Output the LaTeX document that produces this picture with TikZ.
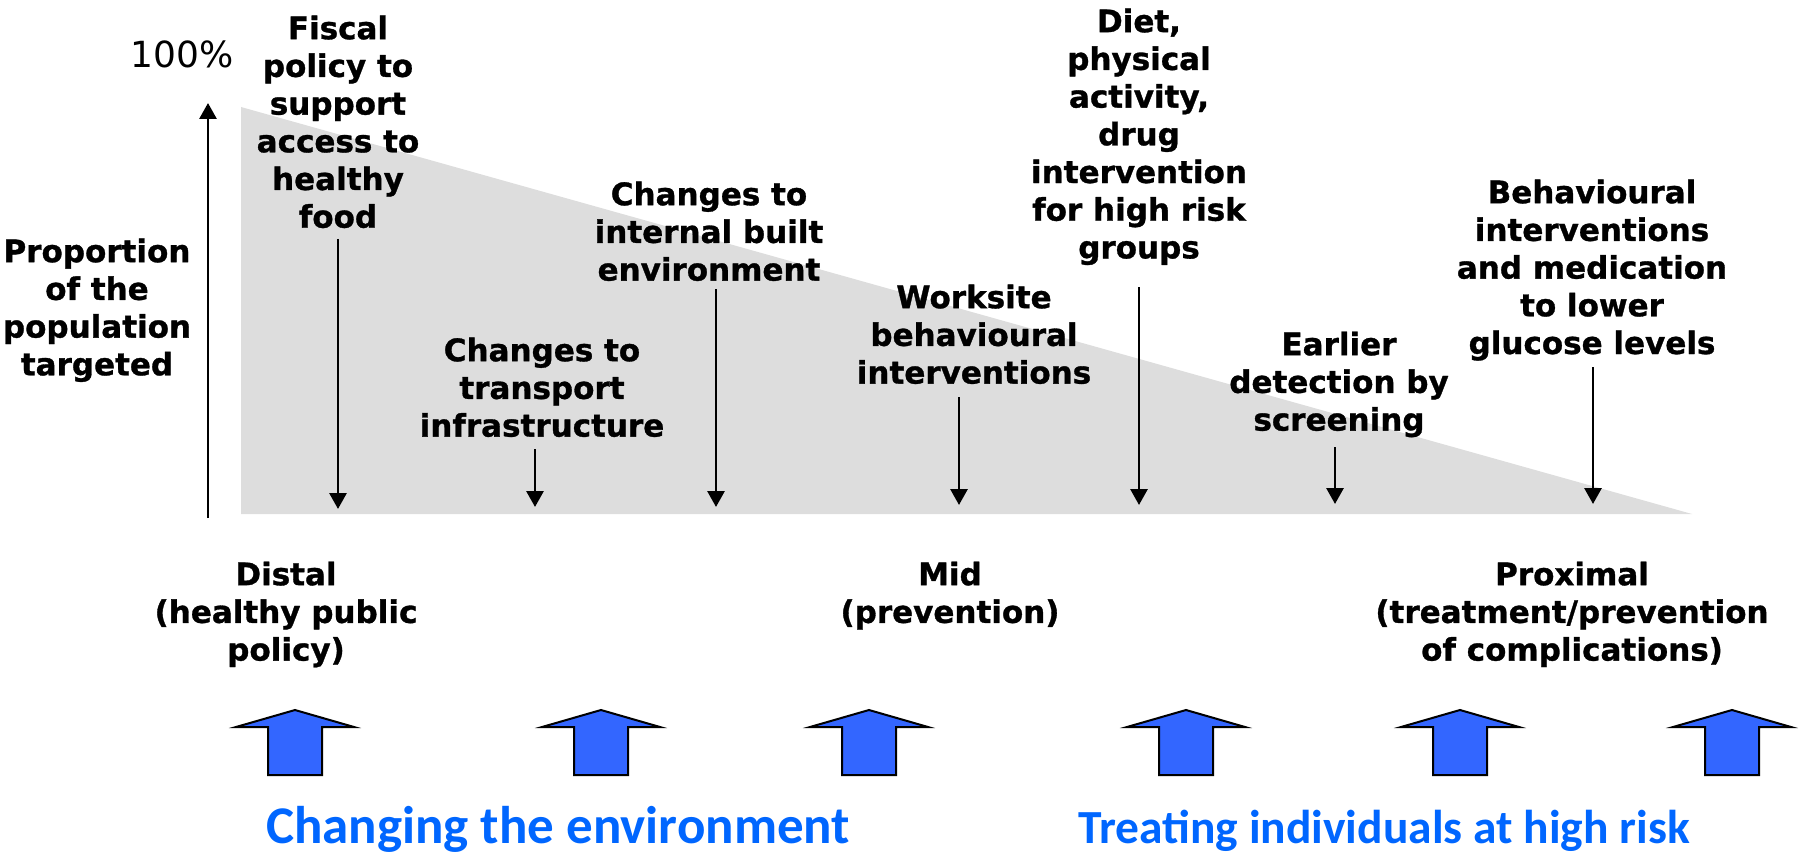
\documentclass[tikz,border=0pt]{standalone}
\usepackage{fontspec}
\setmainfont{DejaVu Sans}[BoldFeatures={FakeBold=1}]
\newfontfamily\headfont{Carlito}
\usetikzlibrary{arrows.meta}

\definecolor{wedge}{RGB}{221,221,221}
\definecolor{headblue}{RGB}{0,102,255}
\definecolor{blockblue}{RGB}{51,102,255}

% first-line strut: node tops sit 26pt above the first baseline
\newcommand{\firstline}{\rule{0pt}{26pt}}

\tikzset{
  lbl/.style={anchor=north, inner sep=0pt, align=center,
    font=\fontsize{31}{37.7}\selectfont\bfseries},
  pointer/.style={line width=2.9pt, -{Triangle[length=16pt,width=17pt]}},
  blockarrow/.style={fill=blockblue, draw=black, line width=2pt, line join=miter},
  headline/.style={inner sep=0pt, anchor=base, text=headblue},
}

\begin{document}
\begin{tikzpicture}[x=1pt, y=-1pt]
\useasboundingbox (0,0) rectangle (1799,853);

% shaded wedge: share of the population reached
\fill[wedge] (241,107) -- (241,514) -- (1692,514) -- cycle;

% vertical axis
\coordinate (axis-foot) at (208,518);
\coordinate (axis-head) at (208,103);
\draw[pointer] (axis-foot) -- (axis-head);
\node[anchor=base, inner sep=0pt, font=\fontsize{36}{40}\selectfont] (pct) at (182,68) {100\%};
\node[lbl] (ylabel) at (97,236) {\firstline Proportion\\of the\\population\\targeted};

% interventions along the wedge
\node[lbl] (fiscal) at (338,13) {\firstline Fiscal\\policy to\\support\\access to\\healthy\\food};
\coordinate (fiscal-from) at (338,239);
\coordinate (fiscal-tip) at (338,509);
\draw[pointer] (fiscal-from) -- (fiscal-tip);

\node[lbl] (transport) at (542,335) {\firstline Changes to\\transport\\infrastructure};
\coordinate (transport-from) at (535,449);
\coordinate (transport-tip) at (535,507);
\draw[pointer] (transport-from) -- (transport-tip);

\node[lbl] (internal) at (709,179) {\firstline Changes to\\internal built\\environment};
\coordinate (internal-from) at (716,289);
\coordinate (internal-tip) at (716,507);
\draw[pointer] (internal-from) -- (internal-tip);

\node[lbl] (worksite) at (974,282) {\firstline Worksite\\behavioural\\interventions};
\coordinate (worksite-from) at (959,397);
\coordinate (worksite-tip) at (959,505);
\draw[pointer] (worksite-from) -- (worksite-tip);

\node[lbl] (diet) at (1139,6) {\firstline Diet,\\physical\\activity,\\drug\\intervention\\for high risk\\groups};
\coordinate (diet-from) at (1139,287);
\coordinate (diet-tip) at (1139,505);
\draw[pointer] (diet-from) -- (diet-tip);

\node[lbl] (screening) at (1339,329) {\firstline Earlier\\detection by\\screening};
\coordinate (screening-from) at (1335,447);
\coordinate (screening-tip) at (1335,504);
\draw[pointer] (screening-from) -- (screening-tip);

\node[lbl] (medication) at (1592,177) {\firstline Behavioural\\interventions\\and medication\\to lower\\glucose levels};
\coordinate (medication-from) at (1593,367);
\coordinate (medication-tip) at (1593,504);
\draw[pointer] (medication-from) -- (medication-tip);

% positions along the causal chain
\node[lbl] (distal) at (286,559) {\firstline Distal\\(healthy public\\policy)};
\node[lbl] (mid) at (950,559) {\firstline Mid\\(prevention)};
\node[lbl] (proximal) at (1572,559) {\firstline Proximal\\(treatment/prevention\\of complications)};

% block arrows
\foreach \x in {295,601,869,1186,1460,1732}
  \draw[blockarrow] (\x-27,775) -- (\x-27,727) -- (\x-59,727) -- (\x,710)
    -- (\x+59,727) -- (\x+27,727) -- (\x+27,775) -- cycle;

% strategy headings
\node[headline, font=\headfont\bfseries\fontsize{53}{60}\selectfont] (environment) at (558,843) {Changing the environment};
\node[headline, font=\headfont\bfseries\fontsize{47.5}{54}\selectfont] (highrisk) at (1384,843) {Treating individuals at high risk};
\end{tikzpicture}
\end{document}
